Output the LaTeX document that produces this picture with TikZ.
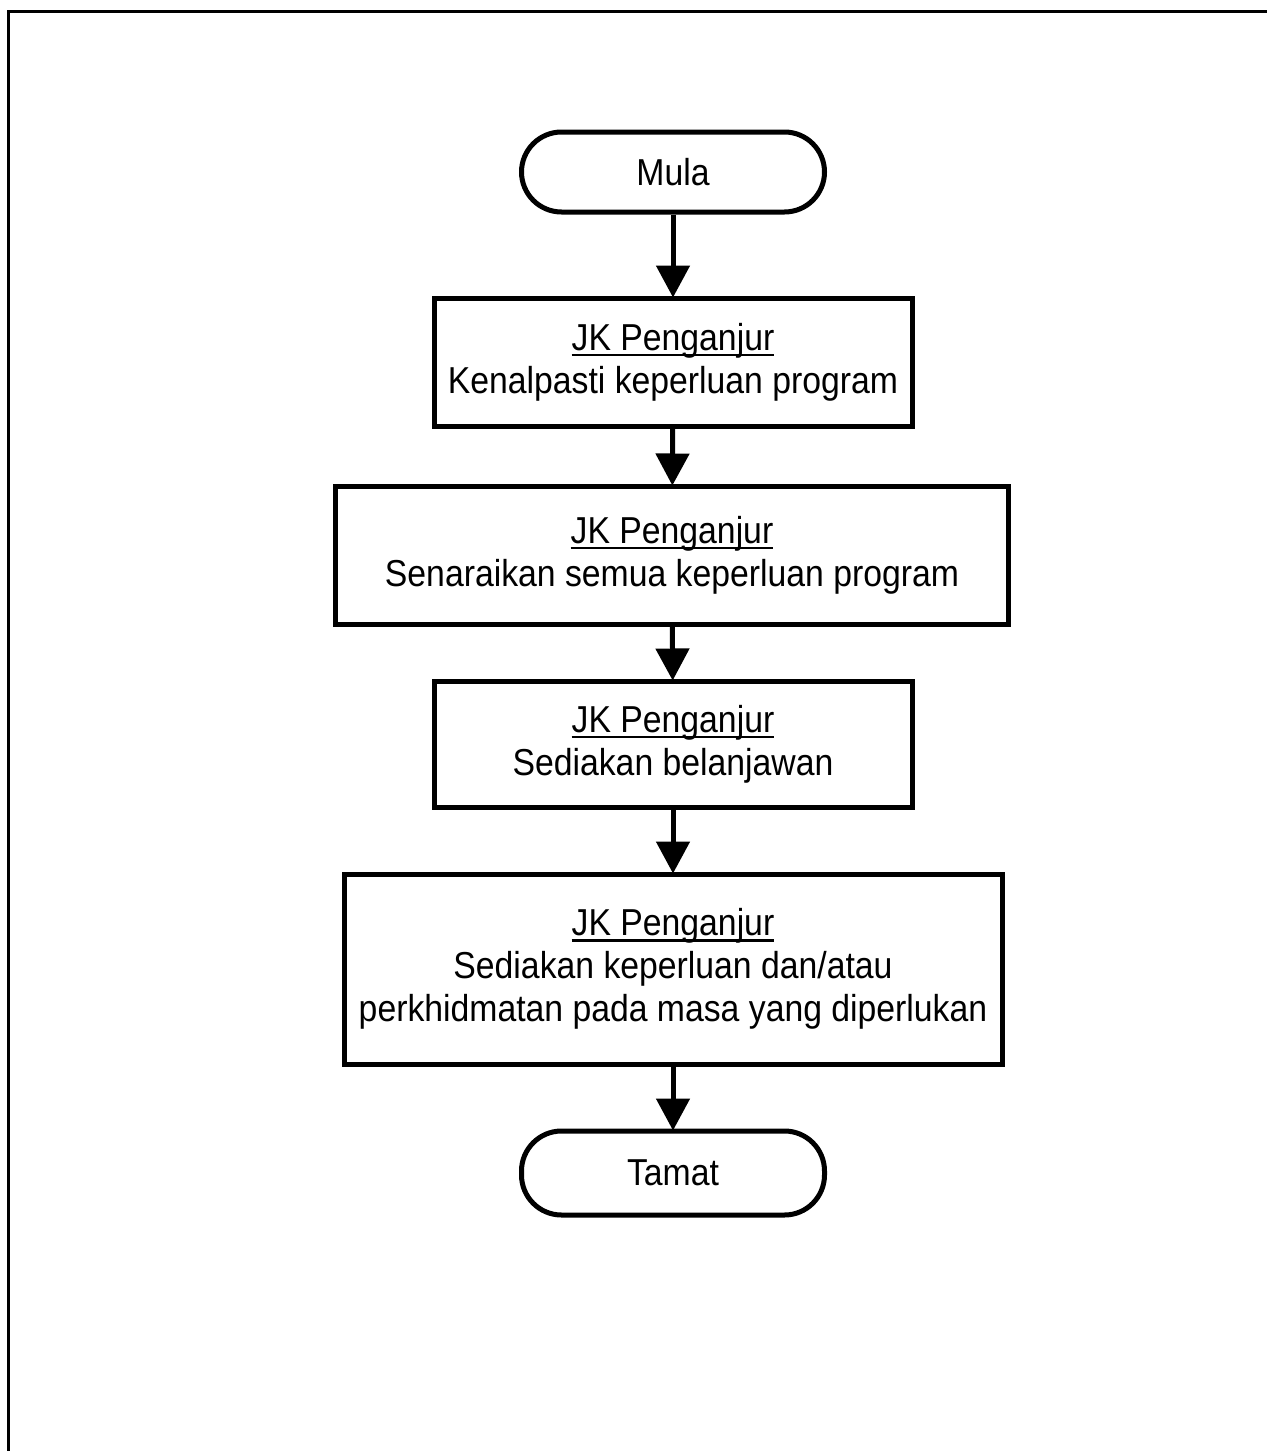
\documentclass[tikz,border=0pt]{standalone}
\usepackage{fontspec}
\setmainfont{Liberation Sans}[FakeStretch=0.9]
\usetikzlibrary{arrows.meta}
\newcommand\ulx[1]{\sbox0{#1}\rlap{\rule[-3pt]{\wd0}{1.2pt}}\usebox0}
\tikzset{
  procbox/.style={draw, line width=2.5pt, rectangle, align=center, inner sep=0pt},
  termbox/.style={draw, line width=2.5pt, rectangle, rounded corners=20pt, align=center, inner sep=0pt},
  flow/.style={line width=2.5pt, -{Triangle[width=16.5pt,length=16pt]}, shorten >=-1pt},
}
\begin{document}
\begin{tikzpicture}[x=0.5pt,y=-0.5pt,font=\fontsize{18.75}{21.5}\selectfont]
\useasboundingbox (0,0) rectangle (1267,1451);
\clip (0,0) rectangle (1267,1451);
\draw[line width=1.5pt] (1300,11) -- (8,11) -- (8,1500);
\node[termbox, minimum width=151.5pt, minimum height=40pt] (mula) at (673,172) {Mula};
\node[procbox, minimum width=239pt, minimum height=64pt] (b1) at (673,362) {\ulx{JK Penganjur}\\Kenalpasti keperluan program};
\node[procbox, minimum width=336.5pt, minimum height=69pt] (b2) at (672,555) {\ulx{JK Penganjur}\\Senaraikan semua keperluan program};
\node[procbox, minimum width=239pt, minimum height=63pt] (b3) at (673,744) {\ulx{JK Penganjur}\\Sediakan belanjawan};
\node[procbox, minimum width=329pt, minimum height=95pt] (b4) at (673,969) {\ulx{JK Penganjur}\\Sediakan keperluan dan/atau\\perkhidmatan pada masa yang diperlukan};
\node[termbox, minimum width=151.5pt, minimum height=42pt] (tamat) at (673,1173) {Tamat};
\draw[flow] (mula) -- (b1);
\draw[flow] (b1) -- (b2);
\draw[flow] (b2) -- (b3);
\draw[flow] (b3) -- (b4);
\draw[flow] (b4) -- (tamat);
\end{tikzpicture}
\end{document}
